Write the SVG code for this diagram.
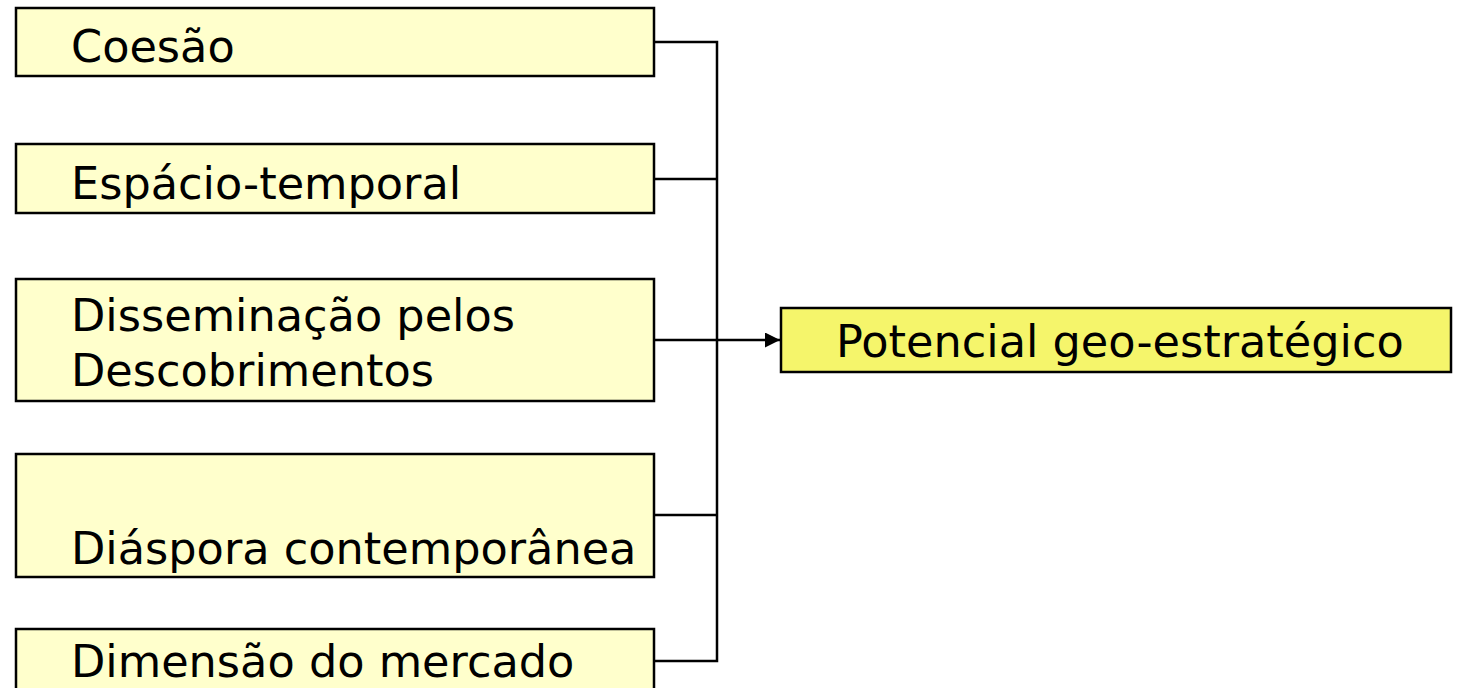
<svg xmlns="http://www.w3.org/2000/svg" width="1459" height="688" viewBox="0 0 1459 688">
<defs>
<style>
.box{fill:#FFFFCC;stroke:#000;stroke-width:2.5}
.tgt{fill:#F5F56B;stroke:#000;stroke-width:2.5}
.t{font-family:"DejaVu Sans",Verdana,sans-serif;font-size:44.6px;fill:#000}
.c{fill:none;stroke:#000;stroke-width:2.5}
</style>
<marker id="arr" viewBox="0 0 10 10" refX="10" refY="5" markerWidth="6.4" markerHeight="6" orient="auto" markerUnits="strokeWidth">
<path d="M0,0 L10,5 L0,10 z" fill="#000"/>
</marker>
</defs>
<rect width="1459" height="688" fill="#fff"/>
<g id="connectors">
<path class="c" d="M654,42 H717 V661 H654"/>
<path class="c" d="M654,179 H717"/>
<path class="c" d="M654,515 H717"/>
<path class="c" d="M654,340 H780" marker-end="url(#arr)"/>
</g>
<g id="n1"><rect class="box" x="16" y="8" width="638" height="68"/><text class="t" x="71" y="62">Coesão</text></g>
<g id="n2"><rect class="box" x="16" y="144" width="638" height="69"/><text class="t" x="71" y="199">Espácio-temporal</text></g>
<g id="n3"><rect class="box" x="16" y="279" width="638" height="122"/><text class="t" x="71" y="331">Disseminação pelos</text><text class="t" x="71" y="386">Descobrimentos</text></g>
<g id="n4"><rect class="box" x="16" y="454" width="638" height="123"/><text class="t" x="71" y="564">Diáspora contemporânea</text></g>
<g id="n5"><rect class="box" x="16" y="629" width="638" height="80"/><text class="t" x="71" y="677">Dimensão do mercado</text></g>
<g id="target"><rect class="tgt" x="781" y="308" width="670" height="64"/><text class="t" x="836" y="357">Potencial geo-estratégico</text></g>
</svg>
